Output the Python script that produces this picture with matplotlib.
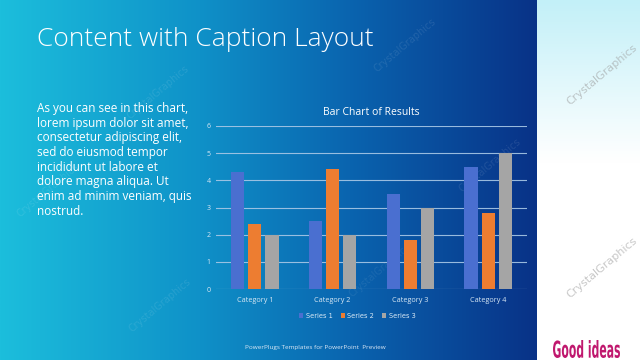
import numpy as np
import matplotlib
matplotlib.use("Agg")
import matplotlib.pyplot as plt
from matplotlib.text import TextPath
from matplotlib.patches import PathPatch
from matplotlib.transforms import Affine2D

categories = ["Category 1", "Category 2", "Category 3", "Category 4"]
series_names = ["Series 1", "Series 2", "Series 3"]
series1 = [4.3, 2.5, 3.5, 4.5]
series2 = [2.4, 4.4, 1.8, 2.8]
series3 = [2.0, 2.0, 3.0, 5.0]
y_ticks = [0, 1, 2, 3, 4, 5, 6]
colors = ["#4a6fd0", "#ed7d31", "#a5a5a5"]

W, H = 640, 360
fig = plt.figure(figsize=(6.4, 3.6), dpi=100)

# background
bg = fig.add_axes([0, 0, 1, 1])
bg.set_xlim(0, W)
bg.set_ylim(H, 0)
bg.axis("off")
xs = np.array([0, 200, 350, 537])
cs = np.array([[28, 190, 220], [15, 145, 200], [10, 100, 175], [8, 50, 135]]) / 255
grad_x = np.linspace(0, 537, 400)
row = np.stack([np.interp(grad_x, xs, cs[:, k]) for k in range(3)], axis=-1)
img = np.repeat(row[None, :, :], 2, axis=0)
bg.imshow(img, extent=[0, 537, H, 0], aspect="auto", zorder=0)
# right panel
ys = np.linspace(0, 1, 200)
top = np.array([195, 240, 248]) / 255
col = np.array([np.interp(ys, [0, 0.45, 1], [top[k], 1, 1]) for k in range(3)]).T
img2 = np.repeat(col[:, None, :], 2, axis=1)
bg.imshow(img2, extent=[537, W, H, 0], aspect="auto", zorder=0)

# watermarks
wm = [(158, 92, 0.10), (405, 45, 0.10), (602, 75, 0.55), (48, 190, 0.10),
      (160, 305, 0.10), (490, 165, 0.10), (602, 268, 0.55), (380, 270, 0.08)]
for x, y, a in wm:
    bg.text(x, y, "CrystalGraphics", rotation=40, ha="center", va="center",
            fontsize=8 if a > 0.3 else 7, color="#9a9a9a" if a > 0.3 else "white",
            alpha=a, family="DejaVu Sans", zorder=1)

# title
fig.text(37 / W, 1 - 39 / H, "Content with Caption Layout", fontsize=19,
         color="white", family="Open Sans", fontweight="light", va="center", ha="left")

body = ("As you can see in this chart,\nlorem ipsum dolor sit amet,\n"
        "consectetur adipiscing elit,\nsed do eiusmod tempor\n"
        "incididunt ut labore et\ndolore magna aliqua. Ut\n"
        "enim ad minim veniam, quis\nnostrud.")
fig.text(37 / W, 1 - 102 / H, body, fontsize=8.5, color="white",
         family="Open Sans", va="top", ha="left", linespacing=1.17)

fig.text(245 / W, 1 - 347 / H, "PowerPlugs Templates for PowerPoint  Preview",
         fontsize=4.6, color="#dce8f5", family="Open Sans", va="center")

# Good ideas logo (condensed by scaling the glyph path)
tp = TextPath((0, 0), "Good ideas", size=14, prop={"family": "DejaVu Sans", "weight": "bold"})
ext = tp.get_extents()
sx = 67 / ext.width
sy = 18 / ext.height
tr = Affine2D().translate(-ext.x0, -ext.y0).scale(sx, -sy).translate(553, 358) + bg.transData
bg.add_patch(PathPatch(tp, transform=tr, color="#c0186e", lw=0, zorder=3))

# chart
left, right, ytop, ybot = 216, 527, 126, 289
ax = fig.add_axes([left / W, 1 - ybot / H, (right - left) / W, (ybot - ytop) / H])
ax.patch.set_alpha(0)
x = np.arange(len(categories))
bw, off = 0.17, 0.22
for i, (vals, c) in enumerate(zip([series1, series2, series3], colors)):
    ax.bar(x + (i - 1) * off, vals, bw, color=c, label=series_names[i], zorder=3)
ax.set_xlim(-0.5, 3.5)
ax.set_ylim(0, 6)
ax.set_yticks(y_ticks)
ax.set_xticks(x)
ax.set_xticklabels(categories)
for s in ax.spines.values():
    s.set_visible(False)
ax.grid(axis="y", color="#a9c8e6", linewidth=0.8, alpha=0.9, zorder=0)
ax.tick_params(axis="both", length=0, labelsize=5, labelcolor="#d8e8f5", pad=4)
ax.tick_params(axis="x", pad=6, labelsize=5.2)
for lab in ax.get_xticklabels() + ax.get_yticklabels():
    lab.set_family("Open Sans")
ax.set_title("Bar Chart of Results", fontsize=7.5, color="white",
             family="Open Sans", pad=8)
leg = ax.legend(loc="upper center", bbox_to_anchor=(0.455, -0.11), ncol=3,
                frameon=False, fontsize=4.8, handlelength=0.6, handleheight=0.6,
                columnspacing=1.2, handletextpad=0.4, labelcolor="#d8e8f5")

fig.savefig("out.png", dpi=100)
